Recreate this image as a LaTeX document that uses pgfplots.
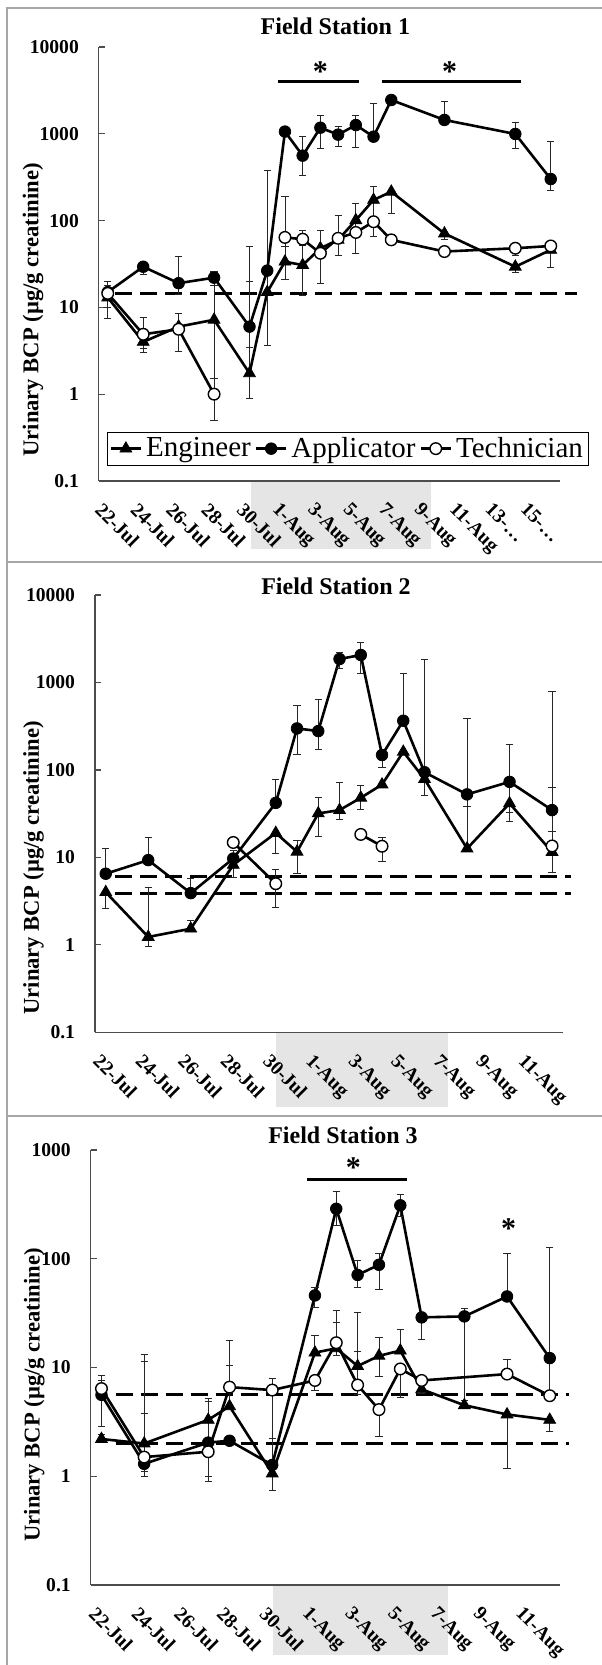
\documentclass[border=0pt]{standalone}
\usepackage{fontspec}
\setmainfont{Liberation Serif}
\usepackage{pgfplots}
\pgfplotsset{compat=1.18}
\usetikzlibrary{backgrounds}

\newcommand{\tickfont}{\bfseries\fontsize{9.8}{11}\selectfont}

\tikzset{sigstar/.style={font=\bfseries\fontsize{15}{15}\selectfont, yshift=-2pt}}

\pgfplotsset{
  ebar/.style={
    error bars/y dir=both,
    error bars/y explicit,
    error bars/error bar style={line width=0.45pt, black!85, solid},
    error bars/error mark options={rotate=90, mark size=1.8pt, line width=0.45pt, black!85},
  },
  engplot/.style={ebar, black, line width=1.3pt, mark=triangle*, mark size=3.4pt,
    mark options={solid, fill=black, draw=black, line width=0.4pt}},
  appplot/.style={ebar, black, line width=1.3pt, mark=*, mark size=2.9pt,
    mark options={solid, fill=black, draw=black, line width=0.4pt}},
  tecplot/.style={ebar, black, line width=1.3pt, mark=*, mark size=2.9pt,
    mark options={solid, fill=white, draw=black, line width=0.7pt}},
  refline/.style={forget plot, black, line width=1.5pt, dash pattern=on 8.5pt off 4pt, no marks},
  sigline/.style={forget plot, black, line width=1.5pt, no marks},
}

\begin{document}
\begin{tikzpicture}
\useasboundingbox (0pt,0pt) rectangle (300.5pt,832.5pt);
% panel frames
\draw[black!35, line width=0.7pt] (3.5pt,0pt) -- (3.5pt,828.5pt) -- (302pt,828.5pt);
\draw[black!35, line width=0.7pt] (3.5pt,551.5pt) -- (302pt,551.5pt);
\draw[black!35, line width=0.7pt] (3.5pt,274.5pt) -- (302pt,274.5pt);
% sampling-period bands under the date axes
\begin{scope}[on background layer]
\fill[black!10] (125.5pt,558pt) rectangle (215.5pt,592pt);
\fill[black!10] (138pt,279pt) rectangle (224.2pt,316.35pt);
\fill[black!10] (136.45pt,5pt) rectangle (224.2pt,40pt);
\end{scope}
% titles and axis labels
\node[font=\bfseries\fontsize{12}{13}\selectfont] at (167.7pt,819.5pt) {Field Station 1};
\node[font=\bfseries\fontsize{12}{13}\selectfont] at (168pt,539.2pt) {Field Station 2};
\node[font=\bfseries\fontsize{12}{13}\selectfont] at (171.5pt,265pt) {Field Station 3};
\node[rotate=90, font=\bfseries\fontsize{11.3}{12}\selectfont] at (16.5pt,677.5pt) {Urinary BCP (µg/g creatinine)};
\node[rotate=90, font=\bfseries\fontsize{11.3}{12}\selectfont] at (16.8pt,398.5pt) {Urinary BCP (µg/g creatinine)};
\node[rotate=90, font=\bfseries\fontsize{11.3}{12}\selectfont] at (17.2pt,135pt) {Urinary BCP (µg/g creatinine)};

% ---------------- Field Station 1 ----------------
\begin{axis}[
  scale only axis, ymode=log, clip=false,
  axis lines*=left,
  axis line style={black!70, line width=0.6pt},
  tick align=inside, major tick length=3pt,
  major y tick style={black!70, line width=0.6pt},
  major x tick style={draw=none},
  yminorticks=false, ytick pos=left,
  yticklabel style={font=\tickfont, xshift=-6.5pt},
  xticklabel style={font=\tickfont, inner sep=0pt, xshift=-2pt, yshift=-10pt, rotate=-45, anchor=north west},
  at={(49.45pt,592pt)}, anchor=south west,
  width=230.35pt, height=217pt, xmin=-0.5, xmax=25.5, ymin=0.1, ymax=10000,
  ytick={0.1,1,10,100,1000,10000}, yticklabels={0.1,1,10,100,1000,10000},
  xtick={0,2,...,24},
  xticklabels={22-Jul,24-Jul,26-Jul,28-Jul,30-Jul,1-Aug,3-Aug,5-Aug,7-Aug,9-Aug,11-Aug,13-…,15-…},
  legend style={at={(0.018,0.1136)}, anchor=north west, legend columns=3,
    draw=black, font=\fontsize{14.5}{15}\selectfont,
    inner xsep=1pt, inner ysep=0.5pt},
  legend image code/.code={\draw[mark repeat=2, mark phase=2] plot coordinates {(0pt,0pt) (7.5pt,0pt) (15pt,0pt)};},
]
\addplot[refline] coordinates {(0.43,14.5) (26.5,14.5)};
\addplot[sigline] coordinates {(9.6,3981) (14.2,3981)};
\addplot[sigline] coordinates {(15.5,3981) (23.3,3981)};
\node[sigstar] at (axis cs:12,5730) {*};
\node[sigstar] at (axis cs:19.3,5730) {*};
% Engineer
\addplot[engplot] table[row sep=\\, x=x, y=y, y error plus expr=\thisrow{t}-\thisrow{y}, y error minus expr=\thisrow{y}-\thisrow{b}] {
x y t b \\
0 13 18 7.5 \\
2 4.0 7.6 3.0 \\
4 6.0 8.6 3.1 \\
6 7.2 25 1.5 \\
8 1.74 50 0.9 \\
9 15 383 3.6 \\
10 33.6 50 21 \\
11 30.7 78 13.7 \\
12 48 78 19 \\
13 60 115 40 \\
14 101 158 42 \\
15 173 250 65 \\
16 215 215 121 \\
19 71 71 60 \\
23 29.4 29.4 25 \\
25 46 46 29 \\
};
\addlegendentry{Engineer}
% Applicator
\addplot[appplot] table[row sep=\\, x=x, y=y, y error plus expr=\thisrow{t}-\thisrow{y}, y error minus expr=\thisrow{y}-\thisrow{b}] {
x y t b \\
0 15 20 10 \\
2 29.4 33 24 \\
4 19 38.5 14 \\
6 22 26 18 \\
8 6.0 20 3.5 \\
9 26.5 26.5 26.5 \\
10 1060 1060 1060 \\
11 560 944 335 \\
12 1175 1648 680 \\
13 977 1208 709 \\
14 1261 1648 700 \\
15 926 2245 926 \\
16 2450 2450 2450 \\
19 1443 2340 1443 \\
23 995 1343 680 \\
25 301 811 225 \\
};
\addlegendentry{Applicator}
% Technician
\addplot[tecplot] table[row sep=\\, x=x, y=y, y error plus expr=\thisrow{t}-\thisrow{y}, y error minus expr=\thisrow{y}-\thisrow{b}] {
x y t b \\
0 14.5 14.5 14.5 \\
2 4.9 7.6 3.4 \\
4 5.6 8.6 3.1 \\
6 1.0 1.5 0.5 \\
};
\addlegendentry{Technician}
\addplot[tecplot, forget plot] table[row sep=\\, x=x, y=y, y error plus expr=\thisrow{t}-\thisrow{y}, y error minus expr=\thisrow{y}-\thisrow{b}] {
x y t b \\
10 64 188 51 \\
11 61 78 52 \\
12 42 42 19 \\
13 62.5 115 40 \\
14 73 158 42 \\
15 97 97 65 \\
16 60 70 60 \\
19 44 44 44 \\
23 48 55 40 \\
25 51 51 51 \\
};
\end{axis}

% ---------------- Field Station 2 ----------------
\begin{axis}[
  scale only axis, ymode=log, clip=false,
  axis lines*=left,
  axis line style={black!70, line width=0.6pt},
  tick align=inside, major tick length=3pt,
  major y tick style={black!70, line width=0.6pt},
  major x tick style={draw=none},
  yminorticks=false, ytick pos=left,
  yticklabel style={font=\tickfont, xshift=-6.5pt},
  xticklabel style={font=\tickfont, inner sep=0pt, xshift=-2pt, yshift=-10pt, rotate=-45, anchor=north west},
  at={(47.55pt,316.35pt)}, anchor=south west,
  width=233.8pt, height=218.65pt, xmin=-0.5, xmax=21.5, ymin=0.1, ymax=10000,
  ytick={0.1,1,10,100,1000,10000}, yticklabels={0.1,1,10,100,1000,10000},
  xtick={0,2,...,20},
  xticklabels={22-Jul,24-Jul,26-Jul,28-Jul,30-Jul,1-Aug,3-Aug,5-Aug,7-Aug,9-Aug,11-Aug},
]
\addplot[refline] coordinates {(0.45,6.0) (21.9,6.0)};
\addplot[refline] coordinates {(0.45,3.86) (21.9,3.86)};
% Engineer
\addplot[engplot] table[row sep=\\, x=x, y=y, y error plus expr=\thisrow{t}-\thisrow{y}, y error minus expr=\thisrow{y}-\thisrow{b}] {
x y t b \\
0 4.0 4.0 2.64 \\
2 1.23 4.5 0.95 \\
4 1.53 1.9 1.53 \\
6 8.2 8.2 5.9 \\
8 19 19 11.1 \\
9 11.6 15.7 6.5 \\
10 31.8 48 17.5 \\
11 34.7 71 27 \\
12 48 66 35.6 \\
13 68 68 68 \\
14 161 161 161 \\
15 78.5 78.5 50.6 \\
17 12.6 388 12.6 \\
19 41.4 41.4 26 \\
21 11.5 19.6 6.8 \\
};
% Applicator
\addplot[appplot] table[row sep=\\, x=x, y=y, y error plus expr=\thisrow{t}-\thisrow{y}, y error minus expr=\thisrow{y}-\thisrow{b}] {
x y t b \\
0 6.5 12.6 6.5 \\
2 9.3 16.9 9.3 \\
4 3.9 5.7 3.9 \\
6 9.7 12.1 9.7 \\
8 42 78 42 \\
9 298 551 150 \\
10 278 641 173 \\
11 1853 2207 1449 \\
12 2060 2876 1271 \\
13 148 148 107 \\
14 365 1271 365 \\
15 94 1837 94 \\
17 52.5 52.5 38 \\
19 73 196 32.6 \\
21 34.7 798 34.7 \\
};
% Technician
\addplot[tecplot] table[row sep=\\, x=x, y=y, y error plus expr=\thisrow{t}-\thisrow{y}, y error minus expr=\thisrow{y}-\thisrow{b}] {
x y t b \\
6 14.8 14.8 14.8 \\
8 5.0 7.3 2.7 \\
};
\addplot[tecplot] table[row sep=\\, x=x, y=y, y error plus expr=\thisrow{t}-\thisrow{y}, y error minus expr=\thisrow{y}-\thisrow{b}] {
x y t b \\
12 18.3 18.3 18.3 \\
13 13.4 16.7 8.9 \\
};
\addplot[tecplot] table[row sep=\\, x=x, y=y, y error plus expr=\thisrow{t}-\thisrow{y}, y error minus expr=\thisrow{y}-\thisrow{b}] {
x y t b \\
21 13.5 63 13.5 \\
};
\end{axis}

% ---------------- Field Station 3 ----------------
\begin{axis}[
  scale only axis, ymode=log, clip=false,
  axis lines*=left,
  axis line style={black!70, line width=0.6pt},
  tick align=inside, major tick length=3pt,
  major y tick style={black!70, line width=0.6pt},
  major x tick style={draw=none},
  yminorticks=false, ytick pos=left,
  yticklabel style={font=\tickfont, xshift=-6.5pt},
  xticklabel style={font=\tickfont, inner sep=0pt, xshift=-2pt, yshift=-10pt, rotate=-45, anchor=north west},
  at={(45.4pt,40pt)}, anchor=south west,
  width=234.8pt, height=217.5pt, xmin=-0.5, xmax=21.5, ymin=0.1, ymax=1000,
  ytick={0.1,1,10,100,1000}, yticklabels={0.1,1,10,100,1000},
  xtick={0,2,...,20},
  xticklabels={22-Jul,24-Jul,26-Jul,28-Jul,30-Jul,1-Aug,3-Aug,5-Aug,7-Aug,9-Aug,11-Aug},
]
\addplot[refline] coordinates {(0.66,5.6) (21.9,5.6)};
\addplot[refline] coordinates {(0.66,2.0) (21.9,2.0)};
\addplot[sigline] coordinates {(9.65,530) (14.29,530)};
\node[sigstar] at (axis cs:11.8,755) {*};
\node[sigstar] at (axis cs:19.08,204) {*};
% Engineer
\addplot[engplot] table[row sep=\\, x=x, y=y, y error plus expr=\thisrow{t}-\thisrow{y}, y error minus expr=\thisrow{y}-\thisrow{b}] {
x y t b \\
0 2.2 2.4 2.2 \\
2 2.0 3.8 1.1 \\
5 3.3 5.2 3.3 \\
6 4.4 17.7 4.4 \\
8 1.06 2.23 0.74 \\
10 13.7 19.9 13.7 \\
11 15.0 26 13 \\
12 10.3 31.9 10.3 \\
13 12.8 18.8 8.2 \\
14 14.3 22.6 14.3 \\
15 6.3 6.3 5.8 \\
17 4.5 4.5 4.5 \\
19 3.7 3.7 1.18 \\
21 3.3 3.3 2.57 \\
};
% Applicator
\addplot[appplot] table[row sep=\\, x=x, y=y, y error plus expr=\thisrow{t}-\thisrow{y}, y error minus expr=\thisrow{y}-\thisrow{b}] {
x y t b \\
0 5.6 8.5 2.86 \\
2 1.30 13.3 1.1 \\
5 2.04 2.04 0.99 \\
6 2.12 2.12 2.12 \\
8 1.27 7.9 1.27 \\
10 46 55 36 \\
11 288 414 204 \\
12 71 96 55 \\
13 88 112 52 \\
14 310 392 244 \\
15 28.9 28.9 18.2 \\
17 29.5 35 5 \\
19 45 112 45 \\
21 12.2 126.5 5 \\
};
% Technician
\addplot[tecplot] table[row sep=\\, x=x, y=y, y error plus expr=\thisrow{t}-\thisrow{y}, y error minus expr=\thisrow{y}-\thisrow{b}] {
x y t b \\
0 6.4 7.6 6.4 \\
2 1.5 11.3 1.0 \\
5 1.68 4.9 0.89 \\
6 6.6 10.5 6.6 \\
8 6.2 6.2 2.23 \\
10 7.6 7.6 6.1 \\
11 16.9 33.8 13 \\
12 6.9 14 5.6 \\
13 4.1 4.1 2.3 \\
14 9.7 9.7 5.3 \\
15 7.6 7.6 7.6 \\
19 8.7 11.9 8.7 \\
21 5.5 5.5 5.5 \\
};
\end{axis}
\end{tikzpicture}
\end{document}
